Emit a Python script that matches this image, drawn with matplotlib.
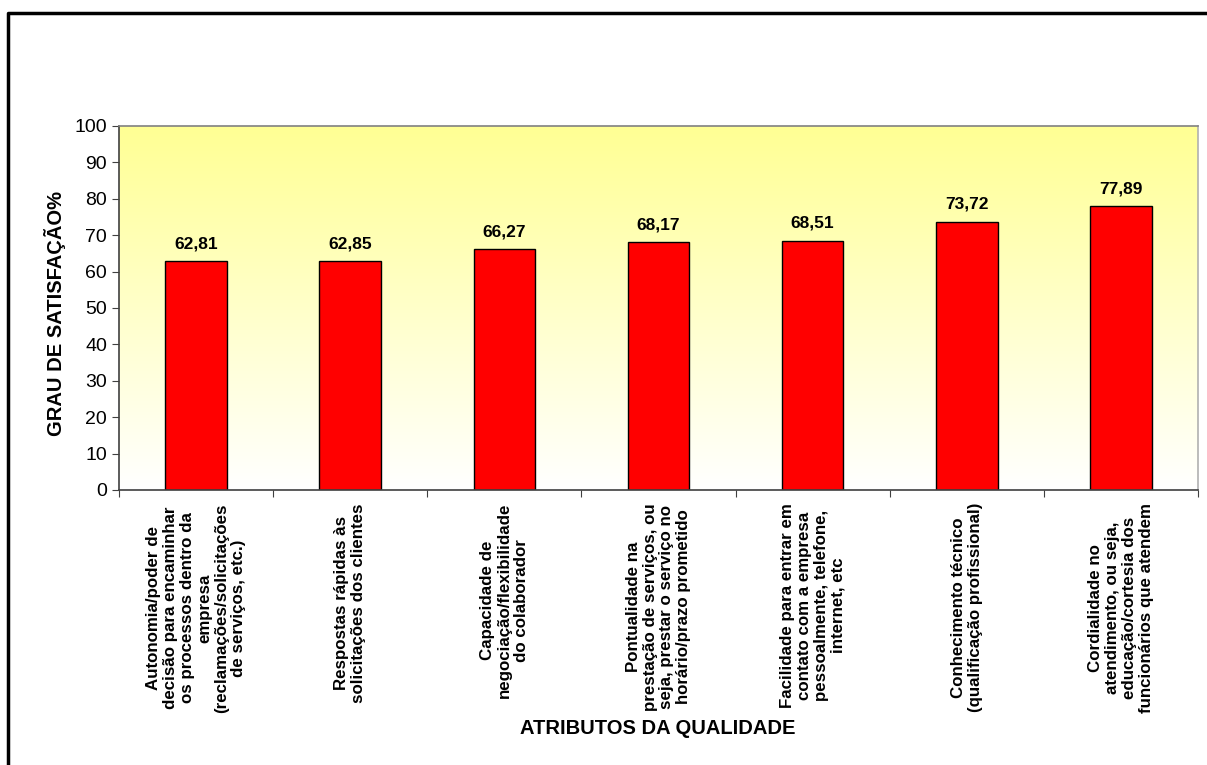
import numpy as np
import matplotlib
matplotlib.use("Agg")
import matplotlib.pyplot as plt
from matplotlib.lines import Line2D

plt.rcParams['font.family'] = ['Liberation Sans', 'DejaVu Sans']

categorias = [
    "Autonomia/poder de\ndecisão para encaminhar\nos processos dentro da\nempresa\n(reclamações/solicitações\nde serviços, etc.)",
    "Respostas rápidas às\nsolicitações dos clientes",
    "Capacidade de\nnegociação/flexibilidade\ndo colaborador",
    "Pontualidade na\nprestação de serviços, ou\nseja, prestar o serviço no\nhorário/prazo prometido",
    "Facilidade para entrar em\ncontato com a empresa\npessoalmente, telefone,\ninternet, etc",
    "Conhecimento técnico\n(qualificação profissional)",
    "Cordialidade no\natendimento, ou seja,\neducação/cortesia dos\nfuncionários que atendem",
]
valores = [62.81, 62.85, 66.27, 68.17, 68.51, 73.72, 77.89]
rotulos = ["62,81", "62,85", "66,27", "68,17", "68,51", "73,72", "77,89"]
yticks = list(range(0, 101, 10))

fig = plt.figure(figsize=(12.07, 7.65), dpi=100)
ax = fig.add_axes([0.0986, 0.3595, 0.8939, 0.4758])

# fundo em degradê (amarelo no topo, branco embaixo)
n = len(valores)
grad = np.linspace(0, 1, 256).reshape(-1, 1)
top = np.array([1.0, 1.0, 0.58])
bot = np.array([1.0, 1.0, 1.0])
img = (bot + (top - bot) * grad).reshape(256, 1, 3)
ax.imshow(img, origin="lower", aspect="auto",
          extent=[-0.5, n - 0.5, 0, 100], zorder=0)

x = np.arange(n)
ax.bar(x, valores, width=0.4, color="#ff0000", edgecolor="black", linewidth=1, zorder=2)
for xi, v, r in zip(x, valores, rotulos):
    ax.annotate(r, (xi, v), xytext=(0, 7), textcoords="offset points",
                ha="center", va="bottom", fontsize=12.5, fontweight="bold")

ax.set_xlim(-0.5, n - 0.5)
ax.set_ylim(0, 100)
ax.set_yticks(yticks)
ax.tick_params(axis="y", labelsize=14, length=5, direction="out", color="#404040")
ax.set_xticks(np.arange(-0.5, n, 1))
ax.set_xticklabels([])
ax.tick_params(axis="x", length=5, direction="out", color="#404040")
for xi, c in zip(x, categorias):
    ax.text(xi, -3.6, c, rotation=90, ha="center", va="top", multialignment="center",
            fontsize=12.2, fontweight="bold", linespacing=1.16)

ax.spines["left"].set_color("#404040")
ax.spines["bottom"].set_color("#404040")
ax.spines["top"].set_color("#808080")
ax.spines["right"].set_color("#b0b0b0")
for s in ax.spines.values():
    s.set_linewidth(1.2)

fig.text(55 / 1207, 1 - 314 / 765, "GRAU DE SATISFAÇÃO%", rotation=90, ha="center",
         va="center", fontsize=14.5, fontweight="bold")
fig.text(658 / 1207, 1 - 729 / 765, "ATRIBUTOS DA QUALIDADE", ha="center",
         va="center", fontsize=14.5, fontweight="bold")

# moldura do gráfico (só topo e esquerda visíveis)
fig.add_artist(Line2D([8 / 1207, 8 / 1207, 1.0], [0.0, 1 - 13 / 765, 1 - 13 / 765],
                      transform=fig.transFigure, color="black", linewidth=2.5))

fig.savefig("out.png", dpi=100)
